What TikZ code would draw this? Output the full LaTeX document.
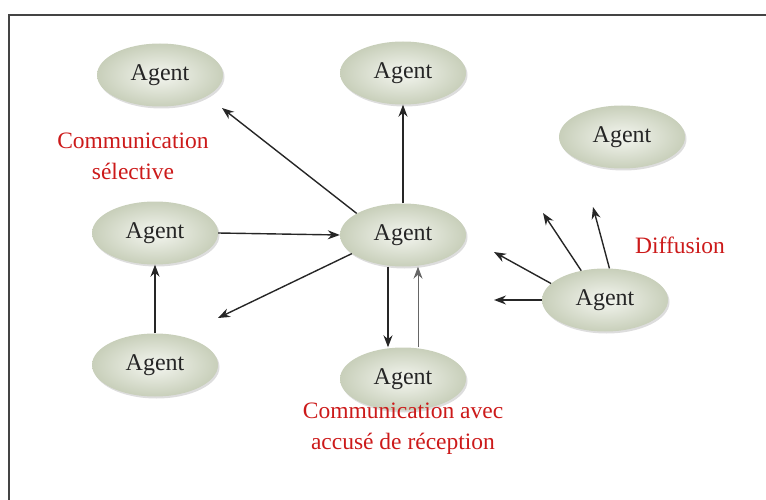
\documentclass[tikz,border=0pt]{standalone}
\usepackage{fontspec}
\setmainfont{Liberation Serif}
\usetikzlibrary{shapes.geometric,arrows.meta,shadows,calc}
\definecolor{agentin}{HTML}{F4F6F0}
\definecolor{agentout}{HTML}{C8CFBA}
\definecolor{labelred}{HTML}{CC1A1A}
\definecolor{framegray}{HTML}{444444}
\begin{document}
\begin{tikzpicture}[x=1pt,y=-1pt,
  agent/.style={ellipse, minimum width=126pt, minimum height=63pt, inner sep=0pt,
    inner color=agentin, outer color=agentout,
    drop shadow={shadow xshift=1.5pt, shadow yshift=-2pt, opacity=0.22, fill=black!60},
    font=\fontsize{24}{28}\selectfont, text=black!85},
  redlabel/.style={text=labelred, font=\fontsize{23.5}{31}\selectfont, align=center},
  msg/.style={-{Stealth[length=12pt,width=9pt]}, line width=1.4pt, black!85},
  reply/.style={-{Stealth[length=12pt,width=9pt]}, line width=0.9pt, black!60}
]
\useasboundingbox (0,0) rectangle (766,500);
% frame
\draw[framegray, line width=2pt] (9,500) -- (9,15) -- (766,15);

% agents
\node[agent] (a1) at (160,75) {Agent};
\node[agent] (a2) at (403,73) {Agent};
\node[agent] (a3) at (622,137) {Agent};
\node[agent] (a4) at (155,233) {Agent};
\node[agent] (c)  at (403,235) {Agent};
\node[agent] (a5) at (155,365) {Agent};
\node[agent] (a6) at (403,379) {Agent};
\node[agent] (a7) at (605,300) {Agent};

% free ends of the broadcast arrows
\coordinate (d1) at (494,300);
\coordinate (d2) at (494,252);
\coordinate (d3) at (543,213);
\coordinate (d4) at (593,207);

% labels
\node[redlabel] (lsel) at (133,156) {Communication\\sélective};
\node[redlabel] (ldif) at (680,245) {Diffusion};
\node[redlabel] (lack) at (403,429) {Communication avec\\accusé de réception};

% selective communication
\draw[msg] (c.155) -- ($(a1.center)+(62,33)$);
\draw[msg] (c.north) -- (a2.south);
\draw[msg] (a4.east) -- (c.west);
\draw[msg] (a5.north) -- (a4.south);
\draw[msg] (c.-160) -- ($(a5.center)+(63,-47)$);

% acknowledged communication
\draw[msg] ([xshift=-15pt]c.south) -- ([xshift=-15pt]a6.north);
\draw[reply] ([xshift=15pt]a6.north) -- ([xshift=15pt]c.south);

% broadcast
\draw[msg] (a7.west) -- (d1);
\draw[msg] (a7.163) -- (d2);
\draw[msg] (a7.129) -- (d3);
\draw[msg] (a7.82) -- (d4);
\end{tikzpicture}
\end{document}
